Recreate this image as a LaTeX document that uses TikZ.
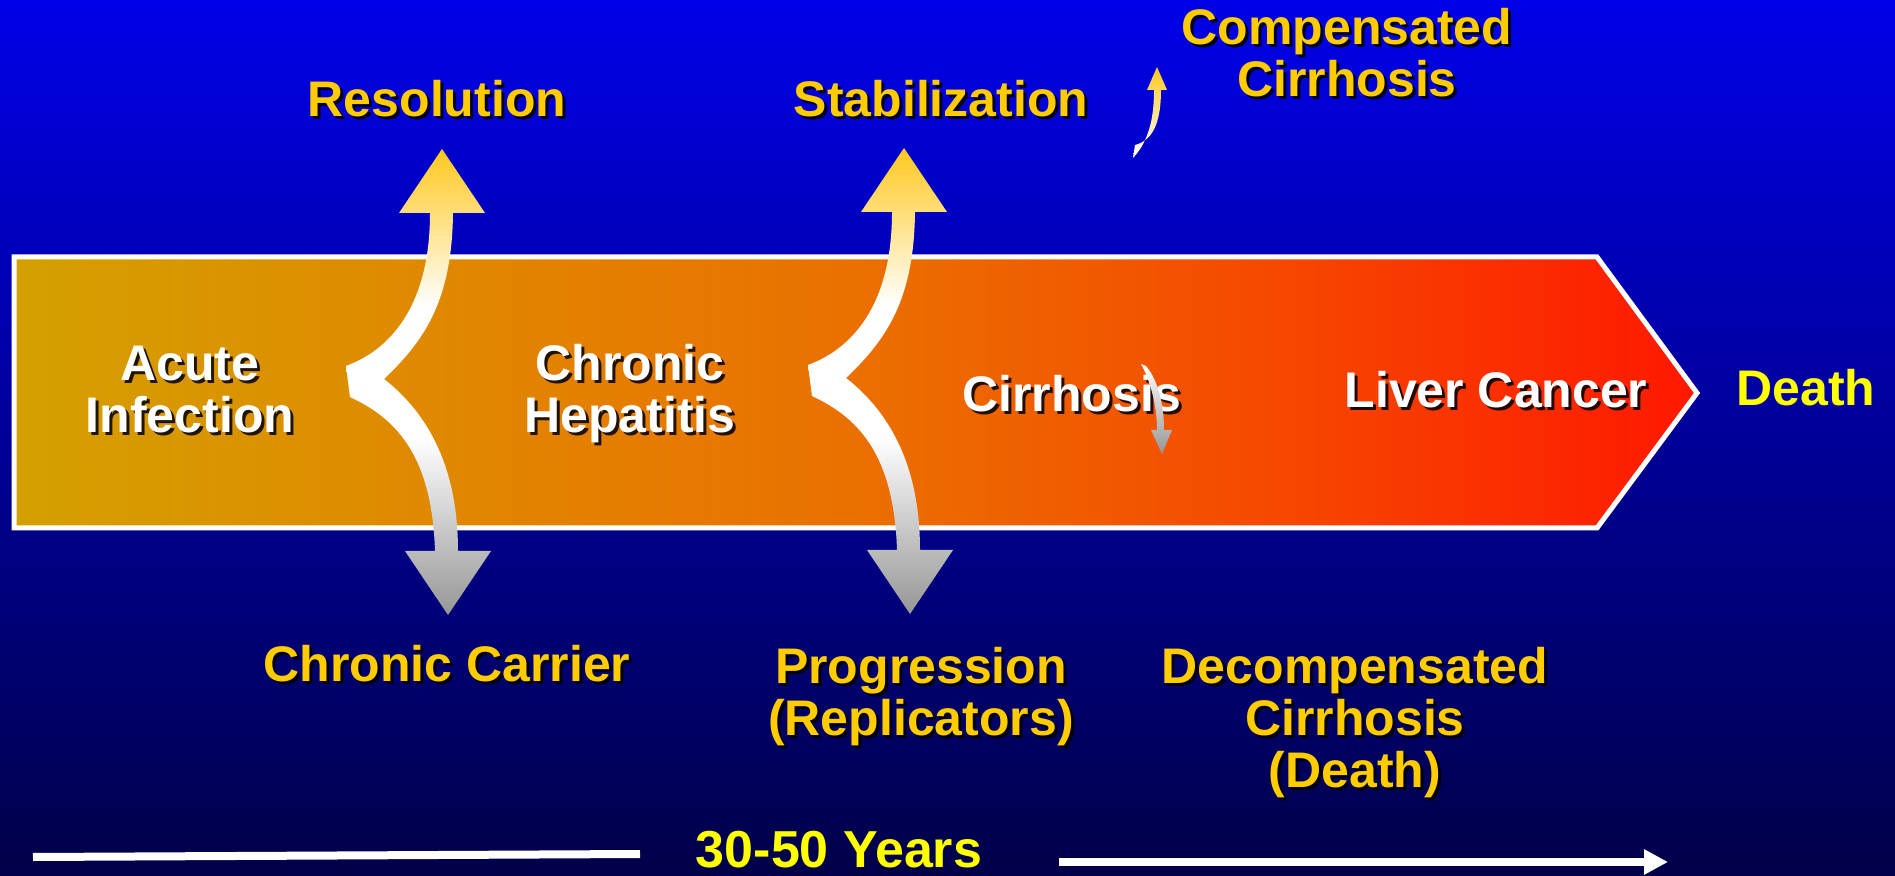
\documentclass[tikz,border=0pt]{standalone}
\usepackage{fontspec}
\setmainfont{Liberation Sans}
\usetikzlibrary{arrows.meta}
\definecolor{bgtop}{RGB}{0,0,232}
\definecolor{bgbot}{RGB}{0,0,72}
\definecolor{bandA}{RGB}{212,160,0}
\definecolor{bandB}{RGB}{224,136,0}
\definecolor{bandC}{RGB}{234,112,0}
\definecolor{bandD}{RGB}{246,72,0}
\definecolor{bandE}{RGB}{255,24,0}
\definecolor{gold}{RGB}{255,204,0}
\definecolor{pureyellow}{RGB}{255,255,0}
\definecolor{agold}{RGB}{255,200,30}
\definecolor{agrey}{RGB}{150,150,150}
\pgfdeclarehorizontalshading{bandshade}{100bp}{color(0bp)=(bandA); color(25bp)=(bandA); color(37.5bp)=(bandB); color(50bp)=(bandC); color(62.5bp)=(bandD); color(75bp)=(bandE); color(100bp)=(bandE)}
\pgfdeclareverticalshading{bigarrowshade}{100bp}{color(0bp)=(agrey); color(25bp)=(agrey); color(44bp)=(white); color(58bp)=(white); color(75bp)=(agold); color(100bp)=(agold)}
\tikzset{
  lbl/.style={font=\bfseries\fontsize{25}{26}\selectfont, inner sep=0pt, anchor=base, align=center},
  timeline/.style={white, line width=4pt},
}
% #1 name, #2 x, #3 y of LAST line baseline, #4 colour, #5 text
\newcommand\shtext[5]{%
  \node[lbl, text=black, opacity=0.85] (#1sh) at (#2+3,#3+3) {#5};
  \node[lbl, text=#4] (#1) at (#2,#3) {#5};}
\newcommand\forkarrow{%
  \shade[shading=bigarrowshade] (346,366) .. controls (395,348) and (430,300) .. (430,213)
    -- (399,213) -- (442,149) -- (485,213) -- (453,213)
    .. controls (452,300) and (425,340) .. (384,379)
    .. controls (430,415) and (458,470) .. (458,551)
    -- (491,551) -- (448,615) -- (405,551) -- (435,551)
    .. controls (432,460) and (400,420) .. (350,397) -- cycle;}
\begin{document}
\begin{tikzpicture}[x=0.5pt, y=-0.5pt]
\useasboundingbox (0,0) rectangle (1895,876);
% background
\shade[top color=bgtop, bottom color=bgbot] (0,0) rectangle (1895,876);
% band
\shadedraw[shading=bandshade, draw=white, line width=2.5pt, line join=miter]
  (14,257) -- (1597,257) -- (1697,393) -- (1597,528) -- (14,528) -- cycle;
% labels
\shtext{resolution}{437}{117}{gold}{Resolution}
\shtext{stabilization}{941}{117}{gold}{Stabilization}
\shtext{compensated}{1347}{97}{gold}{Compensated\\Cirrhosis}
\shtext{acute}{190}{433}{white}{Acute\\Infection}
\shtext{chronic}{630}{433}{white}{Chronic\\Hepatitis}
\shtext{cirrhosis}{1072}{412}{white}{Cirrhosis}
\shtext{cancer}{1496}{408}{white}{Liver Cancer}
\node[lbl, text=pureyellow] (death) at (1806,406) {Death};
\shtext{carrier}{447}{681}{gold}{Chronic Carrier}
\shtext{progression}{921}{735}{gold}{Progression\\(Replicators)}
\shtext{decompensated}{1355}{787}{gold}{Decompensated\\Cirrhosis\\(Death)}
\node[lbl, text=pureyellow, font=\bfseries\fontsize{26}{28}\selectfont] (years) at (839,867) {30-50 Years};
% fork arrows
\forkarrow
\begin{scope}[shift={(462,-1)}]
\forkarrow
\end{scope}
% small arrows
\shade[top color=agold, bottom color=white]
  (1133,158) .. controls (1150,140) and (1154,115) .. (1154,90)
  -- (1147,90) -- (1157,67) -- (1167,90) -- (1161,90)
  .. controls (1161,118) and (1155,140) .. (1135,145) -- cycle;
\shade[top color=white, bottom color=agrey]
  (1141,364) .. controls (1150,380) and (1157,405) .. (1157,430)
  -- (1151,430) -- (1162,454) -- (1172,430) -- (1164,430)
  .. controls (1164,405) and (1158,380) .. (1146,366) -- cycle;
% timeline
\coordinate (tl1) at (33,857);
\coordinate (tl2) at (640,854);
\coordinate (tr1) at (1059,862);
\coordinate (tr2) at (1668,862);
\draw[timeline] (tl1) -- (tl2);
\draw[timeline, -{Triangle[length=12pt, width=12pt]}] (tr1) -- (tr2);
\end{tikzpicture}
\end{document}
